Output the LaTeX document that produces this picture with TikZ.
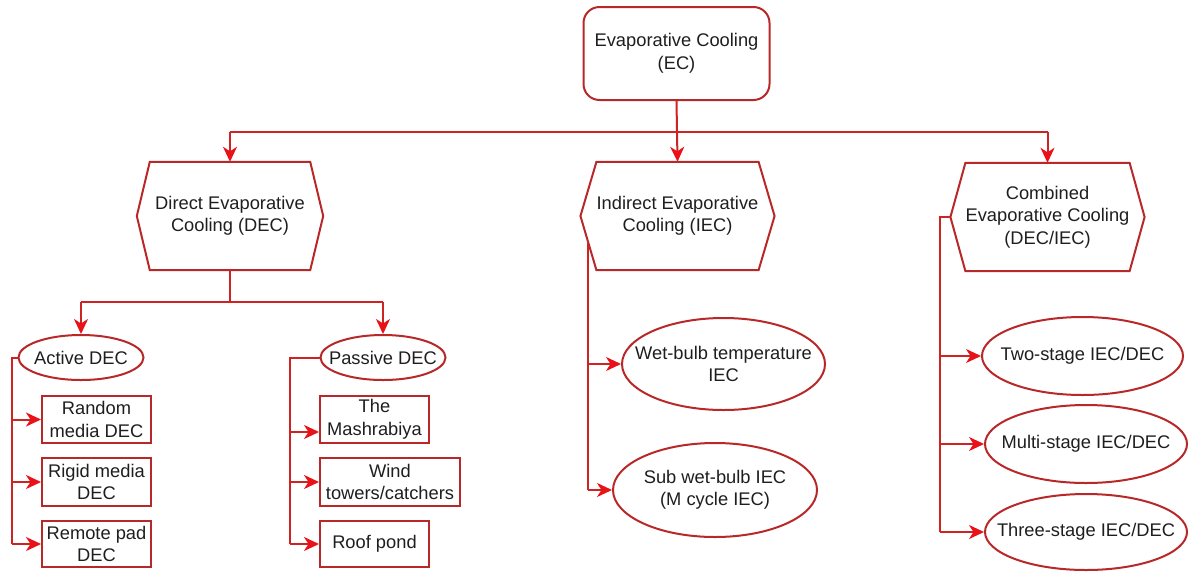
\documentclass[tikz,border=0pt]{standalone}
\usepackage{fontspec}
\setmainfont{Liberation Sans}
\usetikzlibrary{shapes.geometric,arrows.meta,calc}
\definecolor{lnred}{RGB}{205,35,35}
\definecolor{tipred}{RGB}{232,18,24}
\definecolor{bdred}{RGB}{185,40,40}
\definecolor{txt}{RGB}{30,30,30}
\newcommand{\drawhex}[2]{\draw[boxline] (#1.north west) -- (#1.north east) -- ([xshift=#2]#1.east) -- (#1.south east) -- (#1.south west) -- ([xshift=-#2]#1.west) -- cycle;}
\tikzset{
  lbl/.style={font=\fontsize{18.3}{22.5}\selectfont, text=txt, align=center, inner sep=0pt},
  boxline/.style={draw=bdred, line width=2pt, line join=miter},
  hexnode/.style={lbl},
  rbox/.style={lbl, draw=bdred, line width=2pt, rounded corners=16pt},
  sbox/.style={lbl, draw=bdred, line width=2pt},
  ell/.style={ellipse, draw=bdred, line width=2pt, inner sep=0pt},
  conn/.style={draw=lnred, line width=2pt},
  arr/.style={conn, -{Stealth[length=15pt,width=14pt,inset=4.5pt,color=tipred]}},
}
\begin{document}
\begin{tikzpicture}[x=1pt,y=-1pt]
\useasboundingbox (0,0) rectangle (1190,571);
% top
\node[rbox, minimum width=186pt, minimum height=93pt] (ec) at (676.5,53.5) {Evaporative Cooling\\(EC)};
% hexagons
\node[hexnode, minimum width=160pt, minimum height=108pt] (dec) at (230,216) {Direct Evaporative\\Cooling (DEC)};
\node[hexnode, minimum width=155pt, minimum height=108pt] (iec) at (677.5,216) {Indirect Evaporative\\Cooling (IEC)};
\node[hexnode, minimum width=155pt, minimum height=108pt] (comb) at (1047.5,217) {Combined\\Evaporative Cooling\\(DEC/IEC)};
\drawhex{dec}{13pt}
\drawhex{iec}{16pt}
\drawhex{comb}{15pt}
% DEC children
\node[ell, minimum width=125pt, minimum height=45pt] (act) at (81,357.5) {};
\node[lbl] (actT) at (act) {Active DEC};
\node[ell, minimum width=125pt, minimum height=45pt] (pas) at (383,357.5) {};
\node[lbl] (pasT) at (pas) {Passive DEC};
\node[sbox, minimum width=109pt, minimum height=47pt] (rnd) at (96.5,419.5) {Random\\media DEC};
\node[sbox, minimum width=109pt, minimum height=48pt] (rig) at (96.5,482) {Rigid media\\DEC};
\node[sbox, minimum width=109pt, minimum height=46pt] (rem) at (96.5,544) {Remote pad\\DEC};
\node[sbox, minimum width=109pt, minimum height=47pt] (mash) at (374.5,419.5) {The\\Mashrabiya};
\node[sbox, minimum width=140pt, minimum height=48pt] (wind) at (390,482) {Wind\\towers/catchers};
\node[sbox, minimum width=109pt, minimum height=46pt] (roof) at (374.5,544) {Roof pond};
% IEC children
\node[ell, minimum width=203pt, minimum height=92pt] (wet) at (723.5,364) {};
\node[lbl] (wetT) at (wet) {Wet-bulb temperature\\IEC};
\node[ell, minimum width=204pt, minimum height=94pt] (sub) at (715,490) {};
\node[lbl] (subT) at (sub) {Sub wet-bulb IEC\\(M cycle IEC)};
% Combined children
\node[ell, minimum width=201pt, minimum height=78pt] (two) at (1082.5,356) {};
\node[lbl] (twoT) at (two) {Two-stage IEC/DEC};
\node[ell, minimum width=202pt, minimum height=78pt] (multi) at (1086,444) {};
\node[lbl] (multiT) at (multi) {Multi-stage IEC/DEC};
\node[ell, minimum width=202pt, minimum height=76pt] (three) at (1086,532) {};
\node[lbl] (threeT) at (three) {Three-stage IEC/DEC};
% level 1 connectors
\coordinate (bus) at (0,131.5);
\draw[conn] (dec.north |- bus) -- (comb.north |- bus);
\draw[arr] (ec.south) -- (iec.north);
\draw[arr] (dec.north |- bus) -- (dec.north);
\draw[arr] (comb.north |- bus) -- (comb.north);
% DEC to active/passive
\coordinate (bus2) at (0,302);
\draw[conn] (dec.south) -- (dec.south |- bus2);
\draw[conn] (act.north |- bus2) -- (pas.north |- bus2);
\draw[arr] (act.north |- bus2) -- (act.north);
\draw[arr] (pas.north |- bus2) -- (pas.north);
% active DEC branch
\coordinate (abot) at (12,544);
\draw[conn] (act.west) -| (abot);
\draw[arr] (abot |- rnd.west) -- (rnd.west);
\draw[arr] (abot |- rig.west) -- (rig.west);
\draw[arr] (abot) -- (rem.west);
% passive DEC branch
\coordinate (pbot) at (290,544);
\draw[conn] (pas.west) -| (pbot);
\draw[arr] (pbot |- 0,432) -- (mash.west |- 0,432);
\draw[arr] (pbot |- wind.west) -- (wind.west);
\draw[arr] (pbot) -- (roof.west);
% IEC branch
\coordinate (itop) at ($(iec.south west)!0.5!([xshift=-16pt]iec.west)$);
\coordinate (ibot) at (itop |- sub.west);
\draw[conn] (itop) -- (ibot);
\draw[arr] (itop |- wet.west) -- (wet.west);
\draw[arr] (ibot) -- (sub.west);
% Combined branch
\coordinate (ctip) at ([xshift=-15pt]comb.west);
\coordinate (cbot) at (940,532);
\draw[conn] (ctip) -| (cbot);
\draw[arr] (cbot |- two.west) -- (two.west);
\draw[arr] (cbot |- multi.west) -- (multi.west);
\draw[arr] (cbot) -- (three.west);
\end{tikzpicture}
\end{document}
